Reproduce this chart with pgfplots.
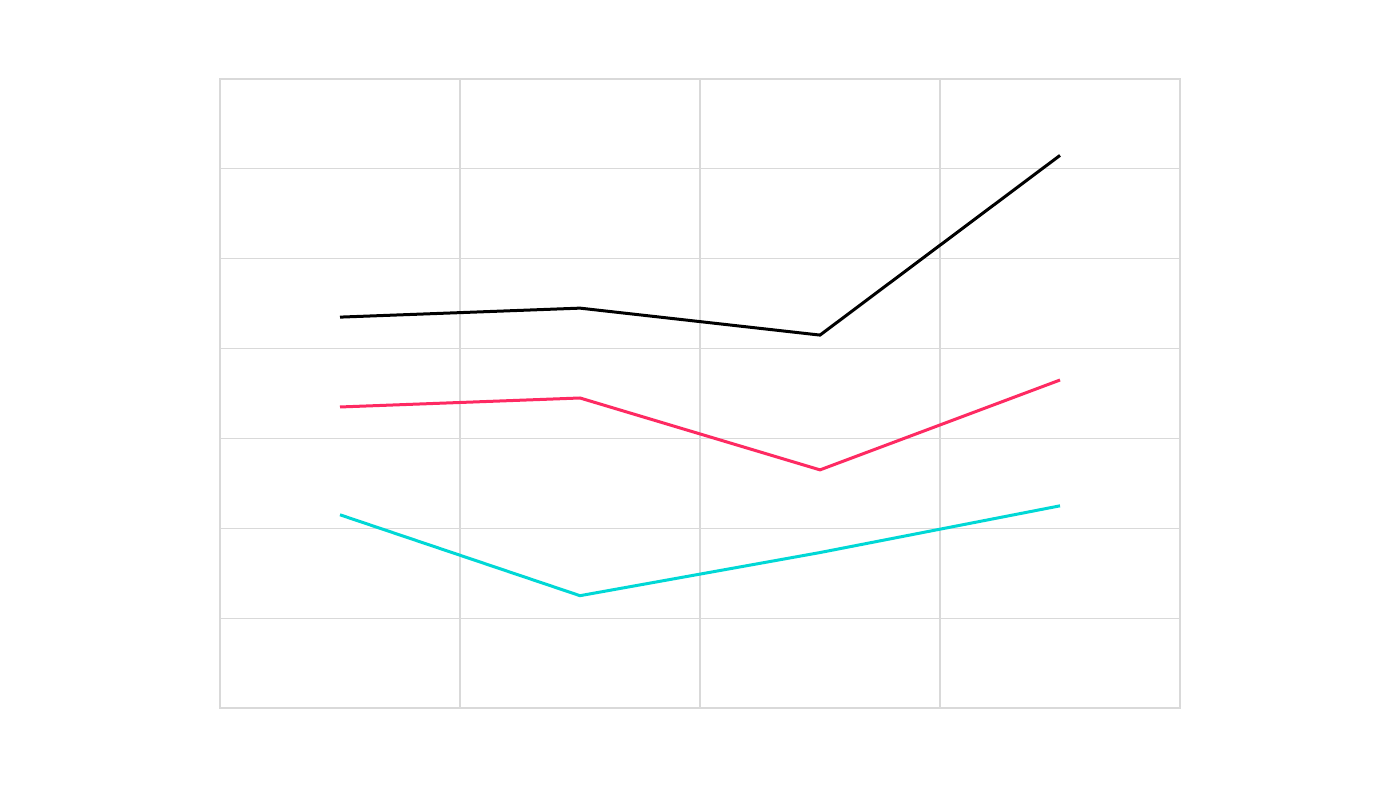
\documentclass[border=0pt]{standalone}
\usepackage{pgfplots}
\pgfplotsset{compat=1.18}
\definecolor{gridgray}{HTML}{D9D9D9}
\definecolor{tred}{HTML}{FE2A62}
\definecolor{tcyan}{HTML}{00D8D6}
\begin{document}
\begin{tikzpicture}
\path[use as bounding box, fill=white] (0,0) rectangle (700pt,393.5pt);
\begin{axis}[
  at={(110pt,39.5pt)}, anchor=south west,
  scale only axis, width=480pt, height=314.5pt,
  xmin=-0.5, xmax=3.5, ymin=0, ymax=7,
  xtick={-0.5,0.5,1.5,2.5,3.5}, ytick={0,1,...,7},
  xticklabels={}, yticklabels={},
  major tick length=0pt,
  grid=major, grid style={gridgray, line width=0.6pt},
  axis line style={gridgray, line width=0.6pt},
]
\addplot[black, line width=1.5pt, mark=none] coordinates {(0,4.35) (1,4.45) (2,4.15) (3,6.15)};
\addplot[tred, line width=1.5pt, mark=none] coordinates {(0,3.35) (1,3.45) (2,2.65) (3,3.65)};
\addplot[tcyan, line width=1.5pt, mark=none] coordinates {(0,2.15) (1,1.25) (2,1.73) (3,2.25)};
\end{axis}
\end{tikzpicture}
\end{document}
